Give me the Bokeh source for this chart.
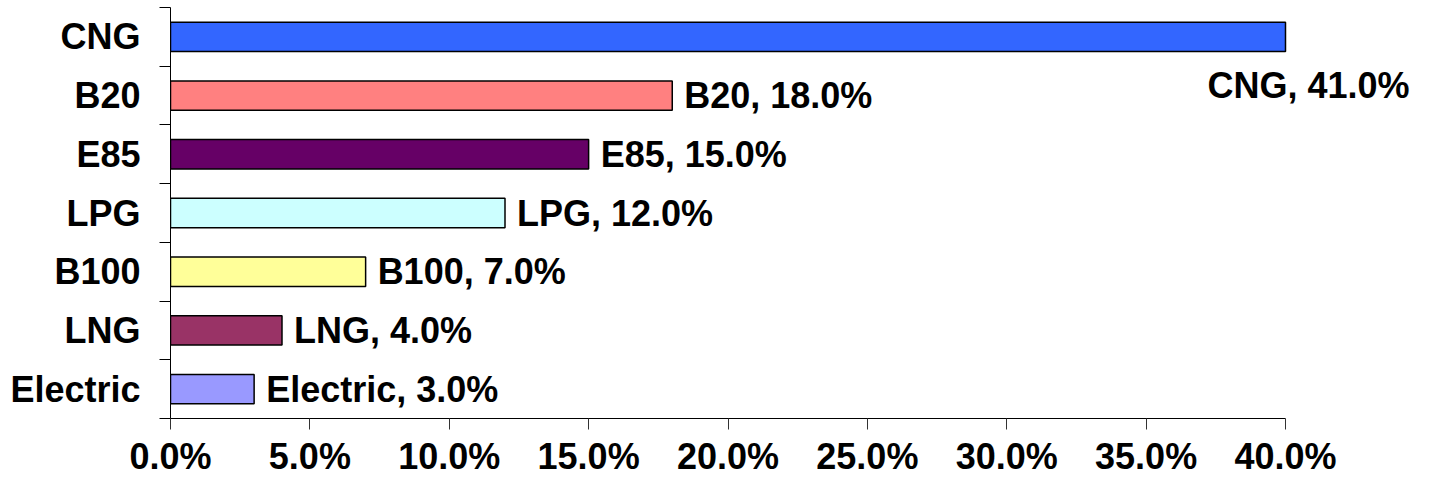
from bokeh.plotting import figure
from bokeh.models import FixedTicker, PrintfTickFormatter, ColumnDataSource, Range1d
from bokeh.core.properties import value
from bokeh.embed import file_html
from bokeh.resources import INLINE
import numpy as np

# ---- data ----
fuels = ["CNG", "B20", "E85", "LPG", "B100", "LNG", "Electric"]
shares = [41.0, 18.0, 15.0, 12.0, 7.0, 4.0, 3.0]
colors = ["#3366FF", "#FF8080", "#660066", "#CCFFFF", "#FFFF99", "#993366", "#9999FF"]
x_ticks = [0, 5, 10, 15, 20, 25, 30, 35, 40]
axis_max = 40.0

FONT = "Liberation Sans"
FS = "36px"

n = len(fuels)
ypos = [n - i - 0.5 for i in range(n)]  # top-to-bottom order
clipped = list(np.minimum(shares, axis_max))
labels = [f"{f}, {s:.1f}%" for f, s in zip(fuels, shares)]

src = ColumnDataSource(dict(y=ypos, right=clipped, color=colors, label=labels, val=shares))
over = [i for i, s in enumerate(shares) if s > axis_max]
inside = [i for i, s in enumerate(shares) if s <= axis_max]
src_in = ColumnDataSource({k: [v[i] for i in inside] for k, v in src.data.items()})
src_over = ColumnDataSource({k: [v[i] for i in over] for k, v in src.data.items()})

W, H = 1418, 479
left_b, right_b, top_b, bottom_b = 170, 0, 7, 58
frame_w = W - left_b - right_b
px_per_unit = 1115 / axis_max
x_end = frame_w / px_per_unit

p = figure(width=W, height=H, output_backend="svg", toolbar_location=None,
           x_range=Range1d(0, x_end), y_range=Range1d(0, n),
           min_border_left=left_b, min_border_right=right_b,
           min_border_top=top_b, min_border_bottom=bottom_b)
p.outline_line_color = None
p.xgrid.visible = False
p.ygrid.visible = False

p.hbar(y="y", left=0, right="right", height=0.5, fill_color="color",
       line_color="black", line_width=1.5, source=src)

p.text(x="right", y="y", text="label", source=src_in, x_offset=12,
       text_baseline="middle", text_align="left", text_color="black",
       text_font=value(FONT), text_font_size=FS, text_font_style="bold")
p.text(x="right", y="y", text="label", source=src_over, x_offset=-78, y_offset=49,
       text_baseline="middle", text_align="left", text_color="black",
       text_font=value(FONT), text_font_size=FS, text_font_style="bold")

# x axis
xa = p.xaxis[0]
xa.ticker = FixedTicker(ticks=x_ticks)
xa.formatter = PrintfTickFormatter(format="%.1f%%")
xa.bounds = (0, axis_max)
xa.major_tick_in = 0
xa.major_tick_out = 11
xa.minor_tick_line_color = None
xa.axis_line_color = "black"
xa.major_tick_line_color = "#333333"
xa.major_label_standoff = 6
xa.major_label_text_font = FONT
xa.major_label_text_font_size = FS
xa.major_label_text_font_style = "bold"
xa.major_label_text_color = "black"

# y axis: labels at category centers, tick marks at boundaries
ya = p.yaxis[0]
ya.ticker = FixedTicker(ticks=ypos, minor_ticks=list(range(n + 1)))
ya.major_label_overrides = {y: f for y, f in zip(ypos, fuels)}
ya.major_tick_line_color = None
ya.minor_tick_in = 0
ya.minor_tick_out = 11
ya.minor_tick_line_color = "black"
ya.axis_line_color = "black"
ya.major_label_standoff = 19
ya.major_label_text_font = FONT
ya.major_label_text_font_size = FS
ya.major_label_text_font_style = "bold"
ya.major_label_text_color = "black"

open("out.html", "w").write(file_html(p, INLINE))
